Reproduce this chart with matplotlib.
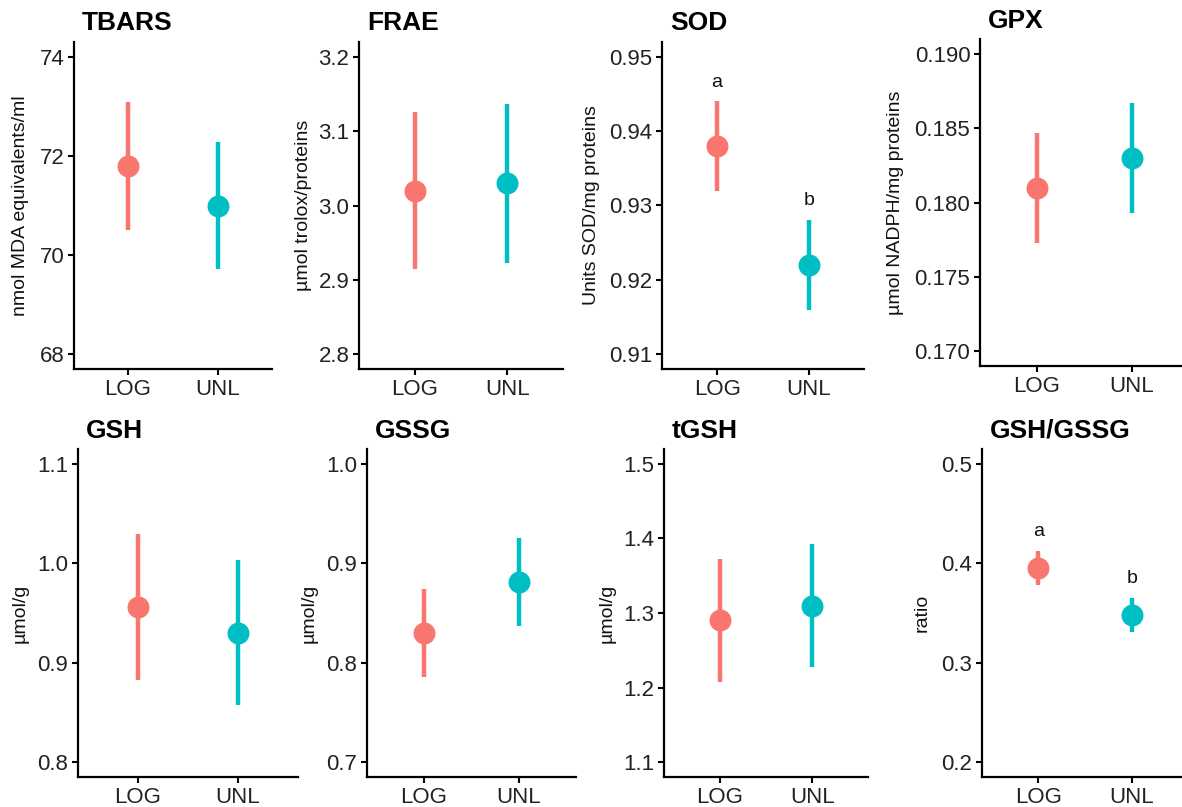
import numpy as np
import matplotlib.pyplot as plt

plt.rcParams['font.family'] = ['Liberation Sans', 'DejaVu Sans']

# data (mean and half-length of the error bar)
groups = ['LOG', 'UNL']
titles = ['TBARS', 'FRAE', 'SOD', 'GPX', 'GSH', 'GSSG', 'tGSH', 'GSH/GSSG']
ylabels = ['nmol MDA equivalents/ml', 'µmol trolox/proteins', 'Units SOD/mg proteins',
           'µmol NADPH/mg proteins', 'µmol/g', 'µmol/g', 'µmol/g', 'ratio']

tbars_mean = [71.8, 71.0]
tbars_err = [1.29, 1.29]
frae_mean = [3.020, 3.030]
frae_err = [0.106, 0.107]
sod_mean = [0.9380, 0.9220]
sod_err = [0.0060, 0.0060]
gpx_mean = [0.1810, 0.1830]
gpx_err = [0.0037, 0.0037]
gsh_mean = [0.956, 0.930]
gsh_err = [0.073, 0.073]
gssg_mean = [0.830, 0.881]
gssg_err = [0.044, 0.044]
tgsh_mean = [1.290, 1.310]
tgsh_err = [0.082, 0.082]
ratio_mean = [0.395, 0.348]
ratio_err = [0.017, 0.017]

sod_letters = ['a', 'b']
ratio_letters = ['a', 'b']

tbars_ticks = [68, 70, 72, 74]
frae_ticks = [2.8, 2.9, 3.0, 3.1, 3.2]
sod_ticks = [0.91, 0.92, 0.93, 0.94, 0.95]
gpx_ticks = [0.170, 0.175, 0.180, 0.185, 0.190]
gsh_ticks = [0.8, 0.9, 1.0, 1.1]
gssg_ticks = [0.7, 0.8, 0.9, 1.0]
tgsh_ticks = [1.1, 1.2, 1.3, 1.4, 1.5]
ratio_ticks = [0.2, 0.3, 0.4, 0.5]
tick_fmt = ['{:.0f}', '{:.1f}', '{:.2f}', '{:.3f}', '{:.1f}', '{:.1f}', '{:.1f}', '{:.1f}']

panels = [
    (tbars_mean, tbars_err, tbars_ticks, None),
    (frae_mean, frae_err, frae_ticks, None),
    (sod_mean, sod_err, sod_ticks, sod_letters),
    (gpx_mean, gpx_err, gpx_ticks, None),
    (gsh_mean, gsh_err, gsh_ticks, None),
    (gssg_mean, gssg_err, gssg_ticks, None),
    (tgsh_mean, tgsh_err, tgsh_ticks, None),
    (ratio_mean, ratio_err, ratio_ticks, ratio_letters),
]

colors = ['#F8766D', '#00BFC4']

# panel boxes in pixels: left, top, right, bottom
boxes = [(74, 42, 272, 369), (359, 42, 563, 369), (662, 42, 864, 369), (980, 39, 1189, 366),
         (78, 449, 298, 777), (367, 449, 576, 777), (664, 449, 868, 777), (982, 449, 1188, 777)]
ylab_x = [21, 304, 591, 896, 20.5, 309, 607, 922]

W, H = 1182, 807
fig = plt.figure(figsize=(W / 100, H / 100), dpi=100)

for i, (mean, err, ticks, letters) in enumerate(panels):
    l, t, r, b = boxes[i]
    ax = fig.add_axes([l / W, 1 - b / H, (r - l) / W, (b - t) / H])
    xs = np.arange(1, len(groups) + 1)
    for j in range(len(groups)):
        ax.errorbar(xs[j], mean[j], yerr=err[j], fmt='o', color=colors[j],
                    ms=15.8, elinewidth=3.2, capsize=0, mew=0)
        if letters:
            ax.annotate(letters[j], xy=(xs[j], mean[j] + err[j]), xytext=(0, 14),
                        textcoords='offset points', ha='center', va='center',
                        fontsize=14, color='#111111')
    rng = ticks[-1] - ticks[0]
    ax.set_ylim(ticks[0] - 0.05 * rng, ticks[-1] + 0.05 * rng)
    ax.set_xlim(0.4, 2.6)
    ax.set_yticks(ticks, labels=[tick_fmt[i].format(v) for v in ticks])
    ax.set_xticks(xs, labels=groups)
    ax.tick_params(labelsize=16, length=4, width=1.5, pad=3, colors='black', labelcolor='#222222')
    for s in ['top', 'right']:
        ax.spines[s].set_visible(False)
    for s in ['left', 'bottom']:
        ax.spines[s].set_linewidth(1.6)
    ax.set_ylabel(ylabels[i], fontsize=14, va='center', color='#111111')
    ax.yaxis.set_label_coords((ylab_x[i] - l) / (r - l), 0.5)
    ax.annotate(titles[i], xy=(0, 1), xycoords='axes fraction', xytext=(8 * 0.72, 18.5 * 0.72),
                textcoords='offset points', ha='left', va='center',
                fontsize=19, fontweight='bold')

fig.savefig('out.png', dpi=100)
